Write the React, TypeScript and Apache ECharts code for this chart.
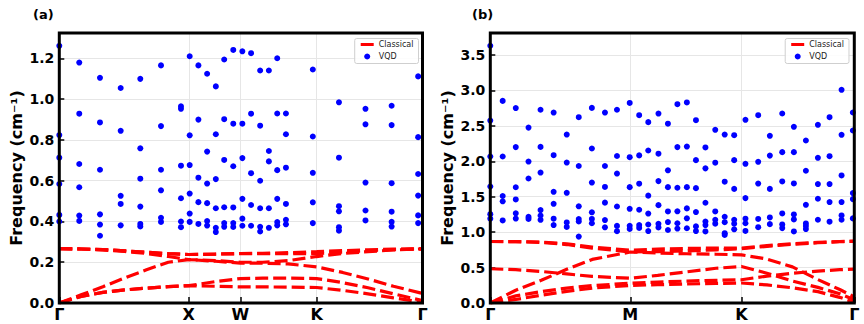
import React, { useEffect, useRef } from "react";
import * as echarts from "echarts";

const FONT = "DejaVu Sans";

// ---------- Panel (a): Γ–X–W–K–Γ ----------
const fccTickPos = [0, 0.3565, 0.4986, 0.7085, 1];
const fccTickNames = ["Γ", "X", "W", "K", "Γ"];

// classical phonon bands sampled along the path
const fccBandK = [0, 0.06, 0.12, 0.18, 0.24, 0.3, 0.3565, 0.43, 0.4986, 0.56, 0.63, 0.7085, 0.78, 0.85, 0.92, 1.0];
const fccTA1 = [0, 0.032, 0.052, 0.064, 0.073, 0.08, 0.085, 0.082, 0.079, 0.079, 0.078, 0.076, 0.062, 0.045, 0.025, 0.004];
const fccTA2 = [0, 0.032, 0.052, 0.064, 0.073, 0.08, 0.085, 0.105, 0.12, 0.122, 0.122, 0.12, 0.1, 0.075, 0.045, 0.012];
const fccLA = [0, 0.04, 0.08, 0.123, 0.163, 0.2, 0.213, 0.205, 0.196, 0.195, 0.192, 0.177, 0.15, 0.118, 0.082, 0.047];
const fccLO = [0.267, 0.265, 0.26, 0.253, 0.243, 0.228, 0.213, 0.208, 0.2, 0.2, 0.208, 0.228, 0.243, 0.252, 0.26, 0.266];
const fccTO1 = [0.267, 0.265, 0.262, 0.256, 0.249, 0.242, 0.238, 0.24, 0.242, 0.242, 0.242, 0.242, 0.25, 0.257, 0.262, 0.266];
const fccTO2 = [0.267, 0.265, 0.262, 0.256, 0.249, 0.242, 0.238, 0.24, 0.243, 0.244, 0.247, 0.252, 0.257, 0.261, 0.264, 0.266];

// VQD eigenvalues at each sampled k-point
const fccVqdK = [0, 0.055, 0.112, 0.169, 0.223, 0.28, 0.335, 0.359, 0.383, 0.407, 0.431, 0.454, 0.479, 0.504, 0.528, 0.553, 0.577, 0.6, 0.624, 0.698, 0.77, 0.843, 0.915, 0.988];
const fccVqdFreq = [
  [1.262, 0.824, 0.713, 0.584, 0.432, 0.4],
  [1.18, 0.929, 0.682, 0.568, 0.429, 0.403],
  [1.105, 0.886, 0.654, 0.435, 0.385, 0.33],
  [1.055, 0.845, 0.526, 0.486, 0.381],
  [1.1, 0.759, 0.61, 0.473, 0.388, 0.376],
  [1.166, 0.868, 0.654, 0.553, 0.418, 0.398],
  [0.965, 0.953, 0.674, 0.514, 0.4, 0.372],
  [1.211, 0.823, 0.677, 0.537, 0.439, 0.398],
  [1.166, 0.9, 0.615, 0.495, 0.388],
  [1.125, 0.743, 0.586, 0.49, 0.402, 0.38],
  [1.063, 0.828, 0.608, 0.465, 0.369, 0.348],
  [1.195, 0.902, 0.702, 0.47, 0.392, 0.374],
  [1.242, 0.88, 0.671, 0.469, 0.392, 0.373],
  [1.235, 0.88, 0.711, 0.511, 0.414, 0.379],
  [1.226, 0.929, 0.637, 0.481, 0.379],
  [1.141, 0.87, 0.6, 0.465, 0.374, 0.351],
  [1.141, 0.746, 0.695, 0.465, 0.369],
  [1.201, 0.93, 0.652, 0.511, 0.397, 0.381],
  [0.93, 0.828, 0.664, 0.486, 0.408, 0.386],
  [1.146, 0.817, 0.639, 0.494, 0.392],
  [0.985, 0.713, 0.475, 0.45, 0.372, 0.355],
  [0.953, 0.877, 0.591, 0.454, 0.405],
  [0.968, 0.873, 0.588, 0.448, 0.398, 0.375],
  [1.112, 0.814, 0.633, 0.527, 0.43, 0.392],
];

// ---------- Panel (b): Γ–M–K–Γ ----------
const hexTickPos = [0, 0.3846, 0.69, 1];
const hexTickNames = ["Γ", "M", "K", "Γ"];

const hexBandK = [0, 0.07, 0.14, 0.21, 0.28, 0.3846, 0.46, 0.54, 0.62, 0.69, 0.76, 0.83, 0.9, 0.96, 1.0];
const hexZA = [0, 0.05, 0.11, 0.165, 0.21, 0.248, 0.258, 0.268, 0.276, 0.282, 0.255, 0.215, 0.16, 0.08, 0.01];
const hexTA = [0, 0.1, 0.16, 0.21, 0.245, 0.28, 0.295, 0.31, 0.32, 0.328, 0.38, 0.42, 0.45, 0.47, 0.479];
const hexZO = [0.483, 0.47, 0.445, 0.41, 0.375, 0.35, 0.39, 0.44, 0.49, 0.516, 0.42, 0.31, 0.22, 0.13, 0.045];
const hexLA = [0, 0.18, 0.32, 0.475, 0.615, 0.72, 0.705, 0.695, 0.688, 0.68, 0.62, 0.51, 0.33, 0.19, 0.085];
const hexTO = [0.868, 0.866, 0.855, 0.825, 0.775, 0.72, 0.725, 0.735, 0.75, 0.765, 0.8, 0.828, 0.85, 0.865, 0.87];
const hexLO = [0.868, 0.867, 0.86, 0.835, 0.79, 0.745, 0.76, 0.77, 0.775, 0.775, 0.81, 0.835, 0.855, 0.868, 0.872];

const hexVqdK = [0, 0.034, 0.07, 0.105, 0.138, 0.174, 0.21, 0.243, 0.279, 0.315, 0.348, 0.383, 0.409, 0.434, 0.462, 0.488, 0.514, 0.54, 0.565, 0.591, 0.618, 0.644, 0.67, 0.701, 0.736, 0.768, 0.802, 0.834, 0.867, 0.9, 0.932, 0.965, 0.996];
const hexVqdFreq = [
  [3.63, 2.574, 2.067, 1.644, 1.254, 1.19],
  [2.852, 2.067, 1.51, 1.435, 1.165],
  [2.751, 2.2, 1.633, 1.461, 1.265, 1.192],
  [2.475, 1.996, 1.757, 1.215, 1.186],
  [2.727, 2.203, 1.841, 1.311, 1.235, 1.174],
  [2.687, 2.086, 1.569, 1.4, 1.19, 1.1],
  [2.377, 1.982, 1.555, 1.137, 1.074],
  [2.622, 1.933, 1.364, 1.184, 1.15, 0.937],
  [2.753, 2.18, 1.7, 1.28, 1.186, 1.125],
  [2.687, 1.933, 1.638, 1.416, 1.17, 1.068],
  [2.727, 2.074, 1.827, 1.362, 1.088, 1.013],
  [2.823, 2.058, 1.635, 1.329, 1.09, 1.045],
  [2.65, 2.083, 1.684, 1.316, 1.1, 1.06],
  [2.552, 2.152, 1.515, 1.262, 1.108, 1.015],
  [2.673, 2.107, 1.72, 1.381, 1.118, 1.066],
  [2.53, 1.872, 1.635, 1.292, 1.142, 1.03],
  [2.805, 2.2, 1.626, 1.294, 1.125, 1.05],
  [2.83, 2.208, 1.635, 1.335, 1.195, 1.055],
  [2.58, 2.016, 1.621, 1.283, 1.081, 1.015],
  [2.195, 1.9, 1.415, 1.15, 1.1, 1.01],
  [2.444, 1.98, 1.292, 1.175, 1.12],
  [2.377, 1.712, 1.217, 1.14, 0.985, 0.96],
  [2.368, 2.016, 1.61, 1.173, 1.118, 1.04],
  [2.585, 1.964, 1.48, 1.19, 1.125, 1.017],
  [2.65, 1.992, 1.685, 1.186, 1.07],
  [2.359, 2.08, 1.61, 1.207, 1.113],
  [2.674, 2.129, 1.715, 1.264, 1.109, 1.057],
  [2.486, 2.129, 1.687, 1.25, 1.18, 1.01],
  [2.293, 1.866, 1.386, 1.123, 1.086, 1.043],
  [2.514, 2.049, 1.678, 1.471, 1.175],
  [2.622, 2.072, 1.678, 1.424, 1.147],
  [3.008, 2.373, 1.8, 1.424, 1.236, 1.175],
  [2.688, 2.434, 1.551, 1.466, 1.194],
];

// ---------- layout ----------
const PANELS = [
  { left: 59.3, top: 33, width: 363.2, height: 270, yMax: 1.325, yStep: 0.2, legendRight: 445.5, tag: "(a)", tagLeft: 33 },
  { left: 490.3, top: 33, width: 364, height: 270, yMax: 3.81, yStep: 0.5, legendRight: 15, tag: "(b)", tagLeft: 472 },
];

const CLASSICAL_ICON = "path://M0,0 M0,1.5 L13,1.5 L13,4.5 L0,4.5 Z M13,6";

function pairs(xs: number[], ys: number[]) {
  return xs.map((x, i) => [x, ys[i]]);
}

function scatterPoints(ks: number[], freqs: number[][]) {
  const out: number[][] = [];
  ks.forEach((k, i) => freqs[i].forEach((f) => out.push([k, f])));
  return out;
}

function buildOption() {
  const panelData = [
    { tickPos: fccTickPos, tickNames: fccTickNames, bandK: fccBandK, bands: [fccTA1, fccTA2, fccLA, fccLO, fccTO1, fccTO2], vqd: scatterPoints(fccVqdK, fccVqdFreq) },
    { tickPos: hexTickPos, tickNames: hexTickNames, bandK: hexBandK, bands: [hexZA, hexTA, hexZO, hexLA, hexTO, hexLO], vqd: scatterPoints(hexVqdK, hexVqdFreq) },
  ];

  const grid: any[] = [];
  const xAxis: any[] = [];
  const yAxis: any[] = [];
  const series: any[] = [];
  const legend: any[] = [];
  const title: any[] = [];
  const graphic: any[] = [];

  PANELS.forEach((p, idx) => {
    const d = panelData[idx];
    grid.push({ left: p.left, top: p.top, width: p.width, height: p.height, show: false });
    xAxis.push({
      type: "value",
      gridIndex: idx,
      min: 0,
      max: 1,
      axisLine: { show: false },
      axisTick: { show: true, inside: true, length: 6, lineStyle: { color: "#000", width: 1.5 }, customValues: d.tickPos },
      axisLabel: {
        customValues: d.tickPos,
        margin: 3,
        color: "#000",
        fontFamily: FONT,
        fontSize: 16,
        fontWeight: "bold",
        formatter: (v: number) => {
          const i = d.tickPos.findIndex((t) => Math.abs(t - v) < 1e-6);
          return i >= 0 ? d.tickNames[i] : "";
        },
      },
      splitLine: { show: true, lineStyle: { color: "#e6e6e6", width: 1 } },
    });
    yAxis.push({
      type: "value",
      gridIndex: idx,
      min: 0,
      max: p.yMax,
      interval: p.yStep,
      name: "Frequency (cm⁻¹)",
      nameLocation: "middle",
      nameGap: 35,
      nameTextStyle: { color: "#000", fontFamily: FONT, fontSize: 16, fontWeight: "bold" },
      axisLine: { show: false },
      axisTick: { show: true, inside: true, length: 5, lineStyle: { color: "#000", width: 1.5 } },
      axisLabel: {
        showMaxLabel: false,
        margin: 5,
        color: "#000",
        fontFamily: FONT,
        fontSize: 14,
        fontWeight: "bold",
        formatter: (v: number) => v.toFixed(1),
      },
      splitLine: { show: true, lineStyle: { color: "#e6e6e6", width: 1 } },
    });

    d.bands.forEach((b) => {
      series.push({
        type: "line",
        name: "Classical",
        xAxisIndex: idx,
        yAxisIndex: idx,
        data: pairs(d.bandK, b),
        symbol: "none",
        silent: true,
        color: "#ff0000",
        lineStyle: { color: "#ff0000", width: 3.2, type: [13, 5] },
        z: 2,
      });
    });
    series.push({
      type: "scatter",
      name: "VQD",
      xAxisIndex: idx,
      yAxisIndex: idx,
      data: d.vqd,
      symbol: "circle",
      symbolSize: 6,
      silent: true,
      color: "#0000ff",
      itemStyle: { color: "#0000ff", opacity: 1 },
      z: 3,
    });

    legend.push({
      orient: "vertical",
      right: p.legendRight,
      top: 38.5,
      data: [
        { name: "Classical", icon: CLASSICAL_ICON },
        { name: "VQD", icon: "circle" },
      ],
      itemWidth: 13,
      itemHeight: 6,
      itemGap: 4,
      selectedMode: false,
      padding: [2, 5, 3, 6],
      borderColor: "#cfcfcf",
      borderWidth: 1,
      borderRadius: 2,
      backgroundColor: "rgba(255,255,255,0.85)",
      itemStyle: { opacity: 1 },
      textStyle: { fontFamily: FONT, fontSize: 8, color: "#222" },
    });

    title.push({
      text: p.tag,
      left: p.tagLeft,
      top: 8,
      padding: 0,
      textStyle: { fontFamily: FONT, fontSize: 13, fontWeight: "bold", color: "#000" },
    });

    // axes frame drawn over the data
    graphic.push({
      type: "rect",
      silent: true,
      z: 100,
      shape: { x: p.left, y: p.top, width: p.width, height: p.height },
      style: { fill: "none", stroke: "#000", lineWidth: 3 },
    });
  });

  return {
    animation: false,
    backgroundColor: "#ffffff",
    textStyle: { fontFamily: FONT },
    title,
    legend,
    grid,
    xAxis,
    yAxis,
    series,
    graphic,
  };
}

export default function App() {
  const ref = useRef<HTMLDivElement | null>(null);

  useEffect(() => {
    document.body.style.margin = "0";
    if (!ref.current) return;
    const chart = echarts.init(ref.current, undefined, { renderer: "svg" });
    chart.setOption(buildOption());
    return () => {
      chart.dispose();
    };
  }, []);

  return <div ref={ref} style={{ width: 864, height: 324 }} />;
}
